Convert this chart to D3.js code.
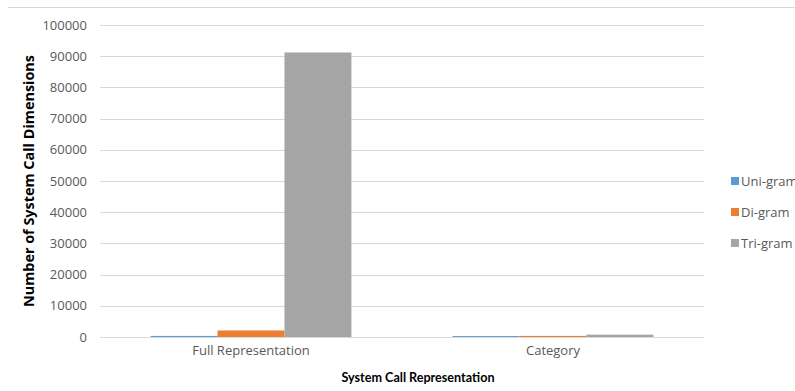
<!DOCTYPE html>
<html>
<head>
<meta charset="utf-8">
<script src="https://cdn.jsdelivr.net/npm/d3@7"></script>
<style>
  html, body { margin: 0; padding: 0; background: #fff; }
  svg { display: block; font-family: "Open Sans", "Liberation Sans", sans-serif; }
</style>
</head>
<body>
<svg id="chart" width="795" height="391"></svg>
<script>
// Number of system call dimensions per representation and n-gram size
const categories = ["Full Representation", "Category"];
const seriesNames = ["Uni-gram", "Di-gram", "Tri-gram"];
const uniGram = [340, 300];
const diGram = [2100, 350];
const triGram = [91200, 750];
const yTicks = [0, 10000, 20000, 30000, 40000, 50000, 60000, 70000, 80000, 90000, 100000];
const colors = ["#5b9bd5", "#ed7d31", "#a5a5a5"];

const seriesValues = [uniGram, diGram, triGram];
const svg = d3.select("#chart");

const plot = { left: 100, right: 704, top: 25, bottom: 337 };

// Top border line of the chart area
svg.append("line")
  .attr("x1", 8).attr("x2", 795)
  .attr("y1", 7.5).attr("y2", 7.5)
  .attr("stroke", "#d9d9d9").attr("stroke-width", 1);

const x0 = d3.scaleBand().domain(categories).range([plot.left, plot.right]).paddingInner(0.335).paddingOuter(0.1675);
const x1 = d3.scaleBand().domain(seriesNames).range([0, x0.bandwidth()]);
const y = d3.scaleLinear().domain([0, 100000]).range([plot.bottom, plot.top]);

// Horizontal gridlines
svg.append("g")
  .selectAll("line")
  .data(yTicks)
  .join("line")
  .attr("x1", plot.left).attr("x2", plot.right)
  .attr("y1", d => Math.round(y(d)) + 0.5).attr("y2", d => Math.round(y(d)) + 0.5)
  .attr("stroke", "#d9d9d9").attr("stroke-width", 1);

// Y axis tick labels
const yAxis = svg.append("g")
  .attr("transform", `translate(${plot.left - 13},0)`)
  .call(d3.axisLeft(y).tickValues(yTicks).tickSize(0).tickPadding(0).tickFormat(d3.format("d")));
yAxis.select(".domain").remove();
yAxis.selectAll("text")
  .attr("fill", "#595959")
  .style("font-size", "13px")
  .style("font-family", "'Open Sans', 'Liberation Sans', sans-serif");

// Bars
const groups = svg.append("g")
  .selectAll("g")
  .data(categories)
  .join("g")
  .attr("transform", d => `translate(${x0(d)},0)`);

groups.selectAll("rect")
  .data((c, i) => seriesNames.map((s, j) => ({ s, v: seriesValues[j][i], j })))
  .join("rect")
  .attr("x", d => x1(d.s))
  .attr("width", x1.bandwidth())
  .attr("y", d => y(d.v))
  .attr("height", d => y(0) - y(d.v))
  .attr("fill", d => colors[d.j]);

// Baseline
svg.append("line")
  .attr("x1", plot.left).attr("x2", plot.right)
  .attr("y1", plot.bottom + 0.5).attr("y2", plot.bottom + 0.5)
  .attr("stroke", "#d9d9d9").attr("stroke-width", 1);

// X axis category labels
const xAxis = svg.append("g")
  .attr("transform", `translate(0,${plot.bottom + 9})`)
  .call(d3.axisBottom(x0).tickSize(0).tickPadding(0));
xAxis.select(".domain").remove();
xAxis.selectAll("text")
  .attr("fill", "#595959")
  .style("font-size", "13px")
  .style("font-family", "'Open Sans', 'Liberation Sans', sans-serif");

// Axis titles
svg.append("text")
  .attr("x", 418).attr("y", 382)
  .attr("text-anchor", "middle")
  .attr("fill", "#000")
  .attr("textLength", 153).attr("lengthAdjust", "spacingAndGlyphs")
  .style("font-family", "Lato, 'Open Sans', sans-serif")
  .style("font-size", "14px").style("font-weight", "bold")
  .text("System Call Representation");

svg.append("text")
  .attr("transform", "translate(34,181) rotate(-90)")
  .attr("text-anchor", "middle")
  .attr("fill", "#000")
  .attr("textLength", 252).attr("lengthAdjust", "spacingAndGlyphs")
  .style("font-size", "15px").style("font-weight", "bold")
  .text("Number of System Call Dimensions");

// Legend
const legend = svg.append("g")
  .selectAll("g")
  .data(seriesNames)
  .join("g")
  .attr("transform", (d, i) => `translate(731,${181 + i * 31})`);
legend.append("rect")
  .attr("x", 0).attr("y", -4).attr("width", 8).attr("height", 8)
  .attr("fill", (d, i) => colors[i]);
legend.append("text")
  .attr("x", 10).attr("y", 0).attr("dy", "0.35em")
  .attr("fill", "#595959")
  .style("font-size", "13px")
  .text(d => d);
</script>
</body>
</html>
